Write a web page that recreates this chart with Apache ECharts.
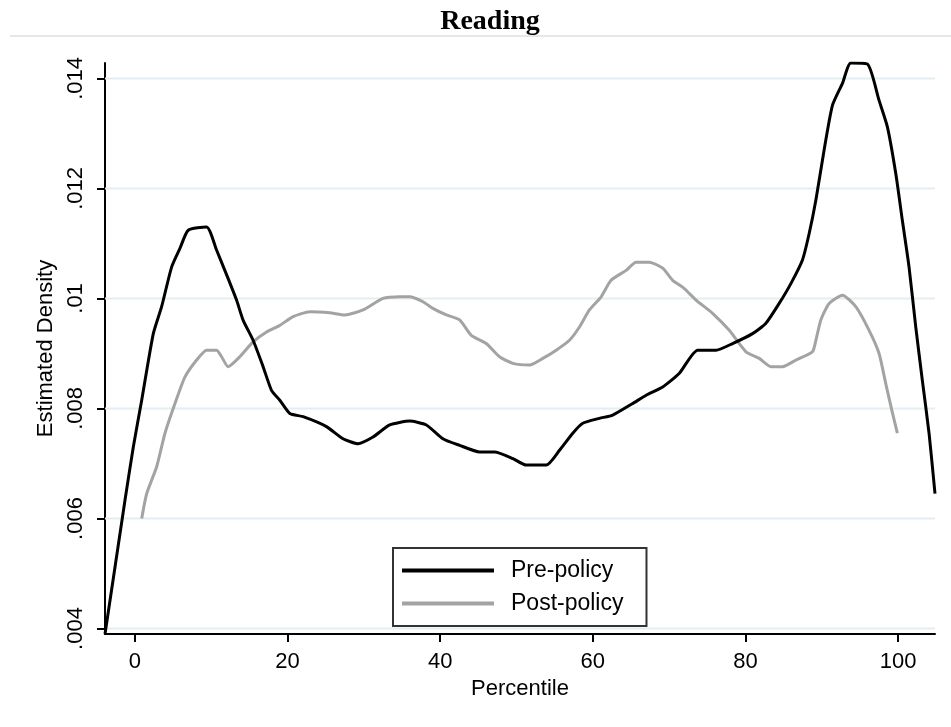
<!DOCTYPE html>
<html><head><meta charset="utf-8">
<script src="https://cdn.jsdelivr.net/npm/echarts@6/dist/echarts.min.js"></script>
<style>html,body{margin:0;padding:0;background:#fff}#c{width:951px;height:727px}</style>
</head><body><div id="c"></div>
<script>
const titleText = 'Reading';
const xAxisName = 'Percentile';
const yAxisName = 'Estimated Density';
const seriesNames = ['Pre-policy', 'Post-policy'];
const xTicks = [0, 20, 40, 60, 80, 100];
const yTicks = [0.004, 0.006, 0.008, 0.010, 0.012, 0.014];
const yTickLabels = ['.004', '.006', '.008', '.01', '.012', '.014'];

const preX = [-3.93, -1.31, -0.22, 0.88, 2.40, 3.49, 4.80, 5.89, 6.98, 9.38, 10.69, 12.21, 13.31, 14.18, 15.48, 16.79, 17.89, 18.98, 20.29, 22.03, 25.09, 27.26, 29.23, 31.19, 33.38, 35.99, 38.18, 40.35, 42.54, 45.16, 47.12, 49.52, 51.27, 53.89, 55.63, 57.37, 58.68, 60.86, 62.60, 65.22, 66.98, 69.15, 71.34, 73.73, 76.14, 78.31, 80.93, 82.68, 84.42, 85.95, 87.47, 88.35, 89.23, 90.31, 91.40, 92.71, 93.81, 95.98, 97.51, 98.60, 99.70, 100.56, 101.44, 102.32, 103.18, 104.06, 104.84];
const preY = [0.0039, 0.00633, 0.0073, 0.00815, 0.00936, 0.00985, 0.01057, 0.01091, 0.01124, 0.0113, 0.01088, 0.01036, 0.00997, 0.0096, 0.00924, 0.00876, 0.00833, 0.00815, 0.00791, 0.00785, 0.00767, 0.00745, 0.00736, 0.00748, 0.0077, 0.00777, 0.0077, 0.00745, 0.00733, 0.00721, 0.00721, 0.00709, 0.00697, 0.00697, 0.00724, 0.00755, 0.00773, 0.00782, 0.00788, 0.00809, 0.00824, 0.00839, 0.00864, 0.00906, 0.00906, 0.00918, 0.00936, 0.00955, 0.00991, 0.01027, 0.0107, 0.01118, 0.01179, 0.0127, 0.01351, 0.01391, 0.01428, 0.01426, 0.0136, 0.01312, 0.01227, 0.01142, 0.01057, 0.00948, 0.00851, 0.00755, 0.00645];

const postX = [0.88, 1.53, 2.84, 3.93, 5.24, 6.54, 8.08, 9.38, 10.69, 11.35, 12.21, 13.74, 15.48, 17.24, 18.98, 20.72, 22.91, 25.52, 27.49, 29.88, 32.50, 34.69, 35.99, 37.74, 39.04, 40.80, 42.54, 44.07, 46.03, 47.77, 49.52, 51.70, 53.44, 55.20, 56.94, 58.25, 59.55, 61.09, 62.39, 64.36, 65.67, 67.41, 69.15, 70.46, 71.99, 73.52, 75.69, 77.88, 80.07, 81.81, 83.34, 84.86, 86.61, 88.78, 89.23, 89.88, 90.97, 92.71, 94.46, 96.20, 97.51, 98.39, 99.28, 99.91];
const postY = [0.006, 0.00645, 0.00694, 0.00755, 0.00809, 0.00857, 0.00888, 0.00906, 0.00906, 0.00894, 0.00876, 0.00894, 0.00921, 0.00939, 0.00951, 0.00967, 0.00976, 0.00974, 0.0097, 0.00979, 0.0100, 0.01003, 0.01003, 0.00994, 0.00982, 0.0097, 0.00961, 0.00933, 0.00918, 0.00894, 0.00882, 0.00879, 0.00891, 0.00906, 0.00924, 0.00948, 0.00979, 0.01003, 0.01033, 0.01051, 0.01066, 0.01066, 0.01055, 0.01033, 0.01018, 0.00997, 0.00973, 0.00942, 0.00903, 0.00891, 0.00876, 0.00876, 0.00888, 0.00903, 0.00924, 0.00961, 0.00991, 0.01006, 0.00985, 0.00942, 0.009, 0.00845, 0.00791, 0.00755];

const zip = (xs, ys) => xs.map((x, i) => [x, ys[i]]);
const FONT = '"Liberation Sans", Arial, sans-serif';
const X_MIN = -3.93, X_MAX = 104.84;

// one horizontal gridline per y tick, drawn through the axes as line series
const gridSeries = yTicks.map((v, i) => ({
  name: 'grid' + i, type: 'line', z: 1, silent: true,
  data: [[X_MIN, v], [X_MAX, v]],
  symbol: 'none', showSymbol: false,
  lineStyle: {color: '#e4edf1', width: 2},
  legendHoverLink: false
}));

const chart = echarts.init(document.getElementById('c'), null, {renderer: 'canvas'});
chart.setOption({
  animation: false,
  backgroundColor: '#fff',
  title: {
    text: titleText, left: 485, textAlign: 'center', top: 3,
    textStyle: {fontFamily: '"Liberation Serif", "Times New Roman", serif', fontWeight: 'bold', fontSize: 28, color: '#000'}
  },
  graphic: [{
    type: 'line', shape: {x1: 10, y1: 36, x2: 951, y2: 36},
    style: {stroke: '#e3e9ea', lineWidth: 2}, silent: true
  }],
  grid: {left: 105, right: 16, top: 63, bottom: 93, containLabel: false},
  legend: {
    data: [{name: seriesNames[0], icon: 'rect'}, {name: seriesNames[1], icon: 'rect'}],
    orient: 'vertical', left: 393, top: 548,
    itemWidth: 92, itemHeight: 4, itemGap: 10,
    padding: [11, 23, 11, 9],
    borderColor: '#333', borderWidth: 2, borderRadius: 0, backgroundColor: '#fff',
    selectedMode: false,
    textStyle: {fontSize: 23, fontFamily: FONT, color: '#000', padding: [0, 0, 0, 12]}
  },
  xAxis: {
    type: 'value', min: X_MIN, max: X_MAX,
    name: xAxisName, nameLocation: 'middle', nameGap: 39,
    nameTextStyle: {fontSize: 22, fontFamily: FONT, color: '#000'},
    axisLine: {onZero: false, lineStyle: {color: '#000', width: 2}},
    axisTick: {customValues: xTicks, length: 8, lineStyle: {color: '#000', width: 2}},
    axisLabel: {customValues: xTicks, fontSize: 22, fontFamily: FONT, color: '#000', margin: 17},
    splitLine: {show: false}
  },
  yAxis: {
    type: 'value', min: 0.0039, max: 0.01428,
    name: yAxisName, nameLocation: 'middle', nameGap: 42, nameRotate: 90,
    nameTextStyle: {fontSize: 22, fontFamily: FONT, color: '#000'},
    axisLine: {show: true, onZero: false, lineStyle: {color: '#000', width: 2}},
    axisTick: {show: true, customValues: yTicks, length: 8, lineStyle: {color: '#000', width: 2}},
    axisLabel: {
      customValues: yTicks, rotate: 90, fontSize: 22, fontFamily: FONT, color: '#000', margin: 18,
      formatter: v => { const i = yTicks.findIndex(t => Math.abs(t - v) < 1e-9); return i >= 0 ? yTickLabels[i] : ''; }
    },
    splitLine: {show: false}
  },
  series: gridSeries.concat([
    {
      name: seriesNames[1], type: 'line', data: zip(postX, postY), z: 3,
      showSymbol: false, symbol: 'none', smooth: 0.2,
      color: '#a3a3a3', lineStyle: {color: '#a3a3a3', width: 3, join: 'round'}
    },
    {
      name: seriesNames[0], type: 'line', data: zip(preX, preY), z: 4,
      showSymbol: false, symbol: 'none', smooth: 0.2,
      color: '#000', lineStyle: {color: '#000', width: 3, join: 'round'}
    }
  ])
});
</script></body></html>
